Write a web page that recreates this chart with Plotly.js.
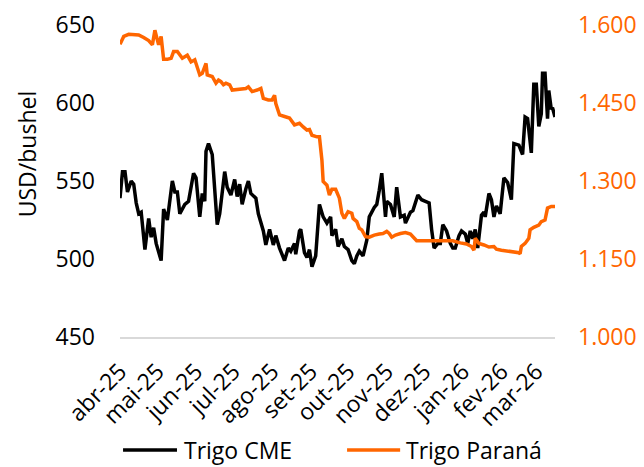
<!DOCTYPE html>
<html>
<head>
<meta charset="utf-8">
<script src="https://cdn.plot.ly/plotly-3.0.1.min.js"></script>
<style>html,body{margin:0;padding:0;background:#fff;}#chart{width:644px;height:467px;}</style>
</head>
<body>
<div id="chart"></div>
<script>
const monthTicks = ['2025-04-01','2025-05-01','2025-06-01','2025-07-01','2025-08-01','2025-09-01','2025-10-01','2025-11-01','2025-12-01','2026-01-01','2026-02-01','2026-03-01'];
const monthLabels = ['abr-25','mai-25','jun-25','jul-25','ago-25','set-25','out-25','nov-25','dez-25','jan-26','fev-26','mar-26'];

const seriesNames = ['Trigo CME', 'Trigo Paraná'];

const cmeDates = ['2025-04-01','2025-04-03','2025-04-05','2025-04-07','2025-04-10','2025-04-12','2025-04-14','2025-04-16','2025-04-18','2025-04-21','2025-04-24','2025-04-26','2025-04-28','2025-04-30','2025-05-04','2025-05-06','2025-05-09','2025-05-13','2025-05-15','2025-05-17','2025-05-19','2025-05-23','2025-05-26','2025-05-30','2025-06-01','2025-06-04','2025-06-06','2025-06-08','2025-06-09','2025-06-11','2025-06-14','2025-06-18','2025-06-20','2025-06-24','2025-06-26','2025-06-29','2025-07-02','2025-07-04','2025-07-06','2025-07-08','2025-07-11','2025-07-13','2025-07-15','2025-07-19','2025-07-21','2025-07-25','2025-07-27','2025-07-30','2025-08-02','2025-08-04','2025-08-07','2025-08-11','2025-08-14','2025-08-16','2025-08-19','2025-08-20','2025-08-23','2025-08-24','2025-08-27','2025-08-29','2025-08-31','2025-09-02','2025-09-05','2025-09-08','2025-09-11','2025-09-14','2025-09-17','2025-09-18','2025-09-21','2025-09-23','2025-09-26','2025-09-28','2025-10-01','2025-10-04','2025-10-06','2025-10-08','2025-10-10','2025-10-13','2025-10-16','2025-10-18','2025-10-22','2025-10-24','2025-10-26','2025-10-28','2025-10-31','2025-11-01','2025-11-04','2025-11-07','2025-11-09','2025-11-12','2025-11-15','2025-11-16','2025-11-20','2025-11-22','2025-11-26','2025-11-29','2025-12-02','2025-12-05','2025-12-07','2025-12-09','2025-12-12','2025-12-14','2025-12-16','2025-12-19','2025-12-22','2025-12-24','2025-12-26','2025-12-29','2025-12-31','2026-01-03','2026-01-05','2026-01-07','2026-01-09','2026-01-11','2026-01-13','2026-01-16','2026-01-18','2026-01-19','2026-01-22','2026-01-24','2026-01-26','2026-01-28','2026-01-31','2026-02-01','2026-02-03','2026-02-06','2026-02-09','2026-02-11','2026-02-15','2026-02-18','2026-02-20','2026-02-22','2026-02-25','2026-02-27','2026-03-01','2026-03-03','2026-03-05','2026-03-06','2026-03-08','2026-03-10','2026-03-11','2026-03-13','2026-03-14','2026-03-16'];
const cmeValues = [539,556,556,543,550,548,536,529,530,506,526,514,520,510,499,532,525,550,543,543,529,535,537,555,552,527,542,537,569,574,567,522,529,556,546,541,551,540,548,535,545,550,542,539,529,518,509,519,509,515,507,499,507,505,510,503,518,519,504,501,506,495,502,535,527,523,527,515,519,508,513,508,506,499,497,502,505,502,512,527,533,535,544,555,527,537,535,527,546,527,528,523,530,531,541,538,537,536,519,507,510,510,522,518,510,507,507,515,518,516,510,518,513,519,507,528,530,527,542,538,527,534,529,538,552,549,538,574,573,567,591,590,568,612,612,585,593,619,619,590,608,596,597,591];

const paranaDates = ['2025-04-01','2025-04-04','2025-04-08','2025-04-12','2025-04-16','2025-04-20','2025-04-24','2025-04-27','2025-04-29','2025-05-01','2025-05-02','2025-05-04','2025-05-06','2025-05-09','2025-05-12','2025-05-14','2025-05-17','2025-05-21','2025-05-23','2025-05-25','2025-05-28','2025-05-31','2025-06-01','2025-06-04','2025-06-06','2025-06-09','2025-06-10','2025-06-14','2025-06-17','2025-06-19','2025-06-21','2025-06-23','2025-06-25','2025-06-28','2025-06-30','2025-07-05','2025-07-11','2025-07-13','2025-07-16','2025-07-20','2025-07-23','2025-07-25','2025-07-29','2025-08-01','2025-08-03','2025-08-04','2025-08-07','2025-08-11','2025-08-15','2025-08-19','2025-08-23','2025-08-26','2025-08-29','2025-08-31','2025-09-02','2025-09-06','2025-09-08','2025-09-10','2025-09-11','2025-09-14','2025-09-16','2025-09-18','2025-09-21','2025-09-24','2025-09-26','2025-09-28','2025-10-01','2025-10-04','2025-10-05','2025-10-08','2025-10-10','2025-10-12','2025-10-15','2025-10-18','2025-10-22','2025-10-26','2025-10-29','2025-11-01','2025-11-03','2025-11-05','2025-11-08','2025-11-12','2025-11-16','2025-11-20','2025-11-22','2025-11-25','2025-12-03','2025-12-14','2025-12-19','2025-12-24','2025-12-30','2026-01-04','2026-01-08','2026-01-10','2026-01-11','2026-01-14','2026-01-18','2026-01-22','2026-01-26','2026-01-28','2026-02-01','2026-02-05','2026-02-11','2026-02-15','2026-02-16','2026-02-17','2026-02-20','2026-02-23','2026-02-24','2026-02-27','2026-03-03','2026-03-05','2026-03-08','2026-03-10','2026-03-13','2026-03-16'];
const paranaValues = [1563,1578,1582,1581,1581,1576,1570,1562,1590,1571,1562,1578,1534,1534,1536,1549,1549,1536,1539,1542,1529,1533,1526,1504,1507,1526,1504,1501,1488,1494,1491,1485,1488,1485,1475,1476,1478,1481,1472,1475,1478,1459,1456,1456,1465,1449,1427,1424,1421,1408,1411,1404,1398,1399,1388,1385,1385,1340,1299,1292,1273,1284,1284,1267,1238,1228,1241,1238,1228,1222,1209,1206,1193,1192,1196,1198,1199,1203,1199,1192,1196,1199,1201,1198,1192,1185,1185,1185,1184,1185,1181,1179,1174,1167,1190,1180,1177,1173,1174,1169,1167,1166,1164,1162,1160,1174,1180,1190,1206,1211,1215,1222,1225,1248,1251,1251];

const leftTicks = [450,500,550,600,650];
const rightTicks = [1000,1150,1300,1450,1600];

const ORANGE = '#ff6600';
const COLORS = ['#000000', ORANGE];
const FONT = 'Open Sans, Noto Sans, sans-serif';
const FS = 23;

const traces = [
  {x: cmeDates, y: cmeValues, type: 'scatter', mode: 'lines', name: seriesNames[0],
   line: {color: COLORS[0], width: 3.5}, yaxis: 'y'},
  {x: paranaDates, y: paranaValues, type: 'scatter', mode: 'lines', name: seriesNames[1],
   line: {color: COLORS[1], width: 3.5}, yaxis: 'y2'}
];

// custom legend (paper coordinates) – long line samples like the original
const legY = -0.362;
const legLineX = [[0.007, 0.131], [0.522, 0.644]];
const legTextX = [0.142, 0.652];
const shapes = [];
const annotations = [];
seriesNames.forEach((nm, i) => {
  shapes.push({type: 'line', xref: 'paper', yref: 'paper', x0: legLineX[i][0], x1: legLineX[i][1],
               y0: legY, y1: legY, line: {color: COLORS[i], width: 3.5}});
  annotations.push({text: nm, xref: 'paper', yref: 'paper', x: legTextX[i], y: legY,
                    xanchor: 'left', yanchor: 'middle', showarrow: false,
                    font: {family: FONT, size: FS, color: '#000'}});
});
annotations.push({text: 'USD/bushel', xref: 'paper', yref: 'paper', x: -0.212, y: 0.585,
                  xanchor: 'center', yanchor: 'middle', textangle: -90, showarrow: false,
                  font: {family: FONT, size: FS, color: '#000'}});

const layout = {
  width: 644, height: 467,
  margin: {l: 120, r: 89, t: 25, b: 130, autoexpand: false},
  paper_bgcolor: '#fff', plot_bgcolor: '#fff',
  separators: ',.',
  font: {family: FONT, size: FS, color: '#000'},
  showlegend: false,
  xaxis: {type: 'date', range: ['2025-04-01', '2026-03-16'], automargin: false,
          tickvals: monthTicks, ticktext: monthLabels, tickangle: -45,
          showgrid: false, zeroline: false, showline: true, linecolor: '#d9d9d9', linewidth: 2,
          ticks: '', tickfont: {family: FONT, size: FS, color: '#000'}, ticklabelstandoff: 10},
  yaxis: {range: [450, 650], tickvals: leftTicks, showgrid: false, zeroline: false, automargin: false,
          showline: false, ticks: '', tickfont: {family: FONT, size: FS, color: '#000'},
          ticklabelstandoff: 24},
  yaxis2: {range: [1000, 1600], tickvals: rightTicks, tickformat: ',.0f', overlaying: 'y', side: 'right',
           showgrid: false, zeroline: false, showline: false, ticks: '', automargin: false,
           tickfont: {family: FONT, size: FS, color: ORANGE}, ticklabelstandoff: 22},
  shapes: shapes,
  annotations: annotations
};

Plotly.newPlot('chart', traces, layout, {displayModeBar: false, staticPlot: true});
</script>
</body>
</html>
